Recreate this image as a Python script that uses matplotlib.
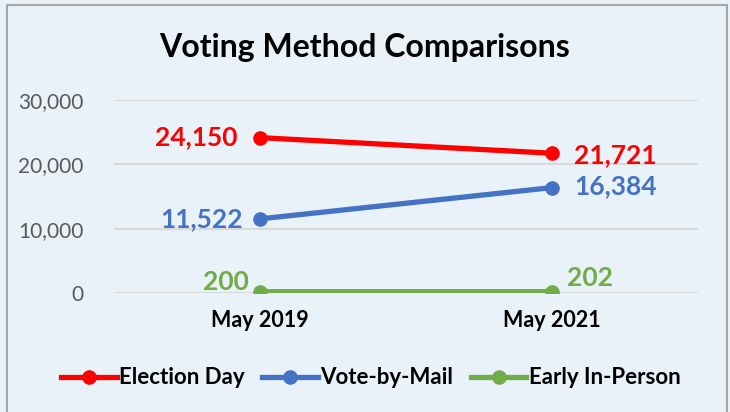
import matplotlib.pyplot as plt
from matplotlib.lines import Line2D
from matplotlib.patches import Rectangle
from matplotlib.ticker import FuncFormatter

plt.rcParams['font.family'] = ['Lato', 'DejaVu Sans']

# data
periods = ['May 2019', 'May 2021']
election_day = [24150, 21721]
vote_by_mail = [11522, 16384]
early_in_person = [200, 202]

series = [
    ('Election Day', election_day, '#FF0000'),
    ('Vote-by-Mail', vote_by_mail, '#4472C4'),
    ('Early In-Person', early_in_person, '#70AD47'),
]

bg = '#E9F1F9'
fig = plt.figure(figsize=(7.3, 4.12), dpi=100)
fig.patch.set_facecolor(bg)
ax = fig.add_axes([114/730, 1-293/412, (698-114)/730, (293-100)/412])
ax.set_facecolor(bg)

x = list(range(len(periods)))
for name, vals, col in series:
    ax.plot(x, vals, color=col, lw=3.8, marker='o', ms=9.5, solid_capstyle='round', zorder=3)

# value labels: left of first point, right of second
offsets = {
    'Election Day': [(-16, 0), (16, -1)],
    'Vote-by-Mail': [(-12, 0), (16, 1)],
    'Early In-Person': [(-8, 7), (11, 10)],
}
for name, vals, col in series:
    for i, v in enumerate(vals):
        dx, dy = offsets[name][i]
        ax.annotate('{:,}'.format(v), (x[i], v), xytext=(dx, dy), textcoords='offset points',
                    ha='right' if i == 0 else 'left', va='center',
                    color=col, fontsize=19, fontweight='bold')

ax.set_xlim(-0.5, 1.5)
ax.set_ylim(0, 30000)
ax.set_yticks([0, 10000, 20000, 30000])
ax.yaxis.set_major_formatter(FuncFormatter(lambda v, p: '{:,.0f}'.format(v)))
ax.set_xticks(x)
ax.set_xticklabels(periods, fontsize=15.5, fontweight='bold')
ax.tick_params(axis='y', labelsize=15, colors='#595959', length=0, pad=22)
ax.tick_params(axis='x', length=0, pad=12)
ax.grid(axis='y', color='#D9D9D9', lw=1.5)
ax.set_axisbelow(True)
for s in ax.spines.values():
    s.set_visible(False)

fig.text(0.5, 1-47/412, 'Voting Method Comparisons', ha='center', va='center',
         fontsize=23, fontweight='bold')

handles = [Line2D([], [], color=c, lw=3.8, marker='o', ms=9.5) for _, _, c in series]
fig.legend(handles, [n for n, _, _ in series], loc='center', bbox_to_anchor=(0.508, 1-378/412),
           ncol=3, frameon=False, prop={'size': 16, 'weight': 'bold'},
           handlelength=2.5, handletextpad=0.1, columnspacing=0.8)

fig.add_artist(Rectangle((7/730, -0.05), 720/730, 1.05-5/412, transform=fig.transFigure,
                         fill=False, edgecolor='#A6A6A6', lw=1.5))

fig.savefig('out.png', dpi=100, facecolor=bg)
